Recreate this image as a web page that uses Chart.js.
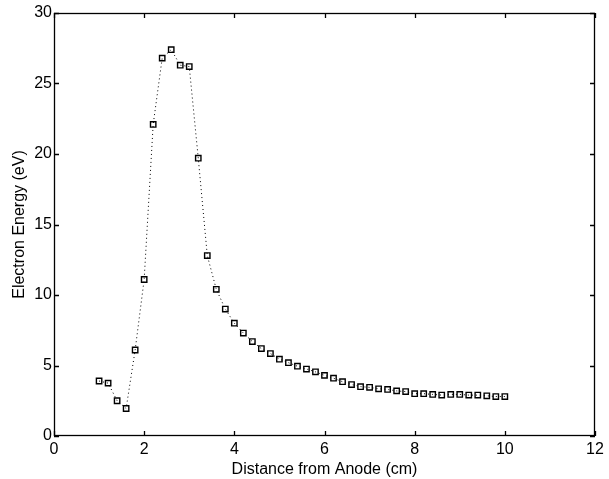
<!DOCTYPE html>
<html>
<head>
<meta charset="utf-8">
<script src="https://cdn.jsdelivr.net/npm/chart.js@4"></script>
<style>
  html, body { margin: 0; padding: 0; background: #fff; }
  #wrap { width: 609px; height: 479px; }
</style>
</head>
<body>
<div id="wrap"><canvas id="myChart"></canvas></div>
<script>
// distance from anode (cm)
const distance = [
  1.0, 1.2, 1.4, 1.6, 1.8, 2.0, 2.2, 2.4, 2.6, 2.8,
  3.0, 3.2, 3.4, 3.6, 3.8, 4.0, 4.2, 4.4, 4.6, 4.8,
  5.0, 5.2, 5.4, 5.6, 5.8, 6.0, 6.2, 6.4, 6.6, 6.8,
  7.0, 7.2, 7.4, 7.6, 7.8, 8.0, 8.2, 8.4, 8.6, 8.8,
  9.0, 9.2, 9.4, 9.6, 9.8, 10.0
];
// electron energy (eV)
const energy = [
  3.9, 3.75, 2.5, 1.95, 6.1, 11.1, 22.1, 26.8, 27.4, 26.3,
  26.2, 19.7, 12.8, 10.4, 9.0, 8.0, 7.3, 6.7, 6.2, 5.85,
  5.45, 5.2, 4.95, 4.75, 4.55, 4.3, 4.1, 3.85, 3.65, 3.5,
  3.45, 3.35, 3.3, 3.2, 3.15, 3.0, 3.0, 2.95, 2.9, 2.95,
  2.95, 2.9, 2.9, 2.85, 2.8, 2.8
];
const xTicks = [0, 2, 4, 6, 8, 10, 12];
const yTicks = [0, 5, 10, 15, 20, 25, 30];

const points = distance.map((d, i) => ({ x: d, y: energy[i] }));

// рамка и внутренние засечки на всех четырёх сторонах
const boxTicks = {
  id: 'boxTicks',
  afterDraw(chart) {
    const { ctx, chartArea: a, scales } = chart;
    ctx.save();
    ctx.strokeStyle = '#000';
    ctx.lineWidth = 1.3;
    ctx.strokeRect(a.left + 0.5, a.top + 0.5, a.right - a.left - 1, a.bottom - a.top - 1);
    ctx.beginPath();
    xTicks.forEach(v => {
      const px = Math.round(scales.x.getPixelForValue(v)) + 0.5;
      ctx.moveTo(px, a.bottom); ctx.lineTo(px, a.bottom - 5);
      ctx.moveTo(px, a.top); ctx.lineTo(px, a.top + 5);
    });
    yTicks.forEach(v => {
      const py = Math.round(scales.y.getPixelForValue(v)) + 0.5;
      ctx.moveTo(a.left, py); ctx.lineTo(a.left + 5, py);
      ctx.moveTo(a.right, py); ctx.lineTo(a.right - 5, py);
    });
    ctx.stroke();
    ctx.restore();
  }
};

const font = { family: 'Liberation Sans, Arial, sans-serif', size: 16 };

new Chart(document.getElementById('myChart'), {
  type: 'scatter',
  data: {
    datasets: [{
      data: points,
      showLine: true,
      borderColor: '#000',
      borderWidth: 1,
      borderDash: [1, 3],
      pointStyle: 'rect',
      pointRadius: 3.8,
      pointBorderWidth: 1.4,
      pointBorderColor: '#000',
      pointBackgroundColor: 'rgba(255,255,255,0)',
      tension: 0
    }]
  },
  options: {
    responsive: true,
    maintainAspectRatio: false,
    animation: false,
    layout: { padding: { top: 13, right: 14, left: 0, bottom: 0 } },
    plugins: { legend: { display: false }, tooltip: { enabled: false } },
    scales: {
      x: {
        type: 'linear', min: 0, max: 12,
        afterFit: s => { s.height = 43; },
        afterBuildTicks: s => { s.ticks = xTicks.map(v => ({ value: v })); },
        grid: { display: false, drawTicks: false },
        border: { display: false },
        ticks: { color: '#000', font, padding: 4, maxRotation: 0 },
        title: { display: true, text: 'Distance from Anode (cm)', color: '#000', font, padding: { top: 0, bottom: 0 } }
      },
      y: {
        type: 'linear', min: 0, max: 30,
        afterFit: s => { s.width = 54; },
        afterBuildTicks: s => { s.ticks = yTicks.map(v => ({ value: v })); },
        grid: { display: false, drawTicks: false },
        border: { display: false },
        ticks: { color: '#000', font, padding: 2 },
        title: { display: true, text: 'Electron Energy (eV)', color: '#000', font, padding: { top: 10, bottom: 0 } }
      }
    }
  },
  plugins: [boxTicks]
});
</script>
</body>
</html>
